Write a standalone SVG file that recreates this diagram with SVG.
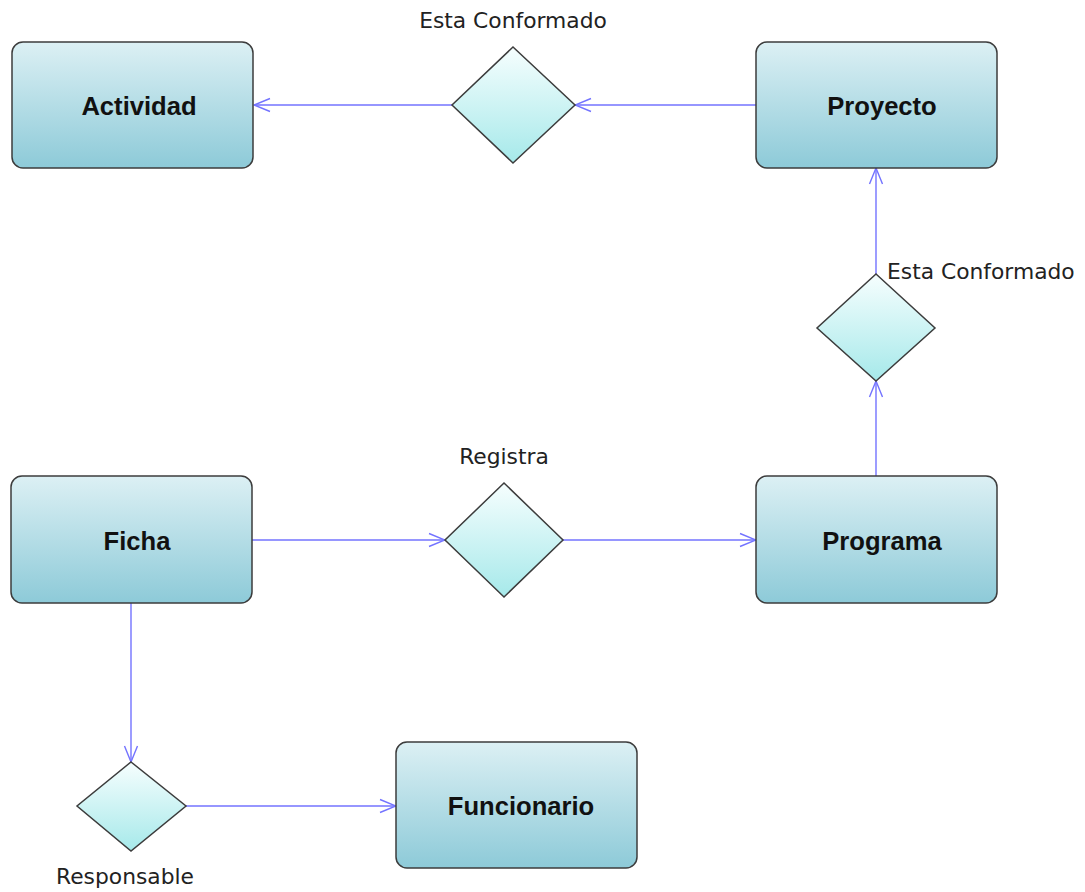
<svg xmlns="http://www.w3.org/2000/svg" width="1085" height="892" viewBox="0 0 1085 892">
  <defs>
    <linearGradient id="entityFill" x1="0" y1="0" x2="0" y2="1">
      <stop offset="0" stop-color="#dcf0f4"/>
      <stop offset="1" stop-color="#8dcad8"/>
    </linearGradient>
    <linearGradient id="relFill" x1="0" y1="0" x2="0" y2="1">
      <stop offset="0" stop-color="#f6fefe"/>
      <stop offset="1" stop-color="#a6e9ea"/>
    </linearGradient>
    <marker id="open" viewBox="-18 -8 19 16" refX="0" refY="0" markerWidth="19" markerHeight="16" markerUnits="userSpaceOnUse" orient="auto">
      <path d="M -16 -6.5 L 0 0 L -16 6.5" fill="none" stroke="#7373ff" stroke-width="1.4"/>
    </marker>
  </defs>
  <style>
    .entity rect { fill: url(#entityFill); stroke: #3c3c3c; stroke-width: 1.5; }
    .entity text { font-family: "Liberation Sans", Arial, sans-serif; font-weight: bold; font-size: 25.6px; fill: #111; text-anchor: middle; }
    .rel polygon { fill: url(#relFill); stroke: #3c3c3c; stroke-width: 1.5; }
    .lbl { font-family: "DejaVu Sans", Verdana, sans-serif; font-size: 21.8px; fill: #222; }
    .edge { fill: none; stroke: #7373ff; stroke-width: 1.4; marker-end: url(#open); }
  </style>

  <rect width="1085" height="892" fill="#ffffff"/>

  <!-- connectors -->
  <g id="connectors">
    <path class="edge" d="M 756 105 L 575 105"/>
    <path class="edge" d="M 452 105 L 254 105"/>
    <path class="edge" d="M 876 476 L 876 381"/>
    <path class="edge" d="M 876 274 L 876 168"/>
    <path class="edge" d="M 252 540 L 445 540"/>
    <path class="edge" d="M 563 540 L 756 540"/>
    <path class="edge" d="M 131 603 L 131 762"/>
    <path class="edge" d="M 186 806 L 396 806"/>
  </g>

  <!-- entities -->
  <g id="actividad" class="entity">
    <rect x="12" y="42" width="241" height="126" rx="11"/>
    <text x="139" y="115">Actividad</text>
  </g>
  <g id="proyecto" class="entity">
    <rect x="756" y="42" width="241" height="126" rx="11"/>
    <text x="882" y="115">Proyecto</text>
  </g>
  <g id="ficha" class="entity">
    <rect x="11" y="476" width="241" height="127" rx="11"/>
    <text x="137" y="550">Ficha</text>
  </g>
  <g id="programa" class="entity">
    <rect x="756" y="476" width="241" height="127" rx="11"/>
    <text x="882" y="550">Programa</text>
  </g>
  <g id="funcionario" class="entity">
    <rect x="396" y="742" width="241" height="126" rx="11"/>
    <text x="521" y="815">Funcionario</text>
  </g>

  <!-- relationships -->
  <g id="rel-conformado-actividad" class="rel">
    <polygon points="513,47 575,105 513,163 452,105"/>
    <text class="lbl" x="513" y="28" text-anchor="middle">Esta Conformado</text>
  </g>
  <g id="rel-conformado-proyecto" class="rel">
    <polygon points="876,274 935,328 876,381 817,328"/>
    <text class="lbl" x="887" y="279">Esta Conformado</text>
  </g>
  <g id="rel-registra" class="rel">
    <polygon points="504,483 563,540 504,597 445,540"/>
    <text class="lbl" x="504" y="464" text-anchor="middle">Registra</text>
  </g>
  <g id="rel-responsable" class="rel">
    <polygon points="131,762 186,806 131,851 77,806"/>
    <text class="lbl" x="125" y="884" text-anchor="middle">Responsable</text>
  </g>
</svg>
